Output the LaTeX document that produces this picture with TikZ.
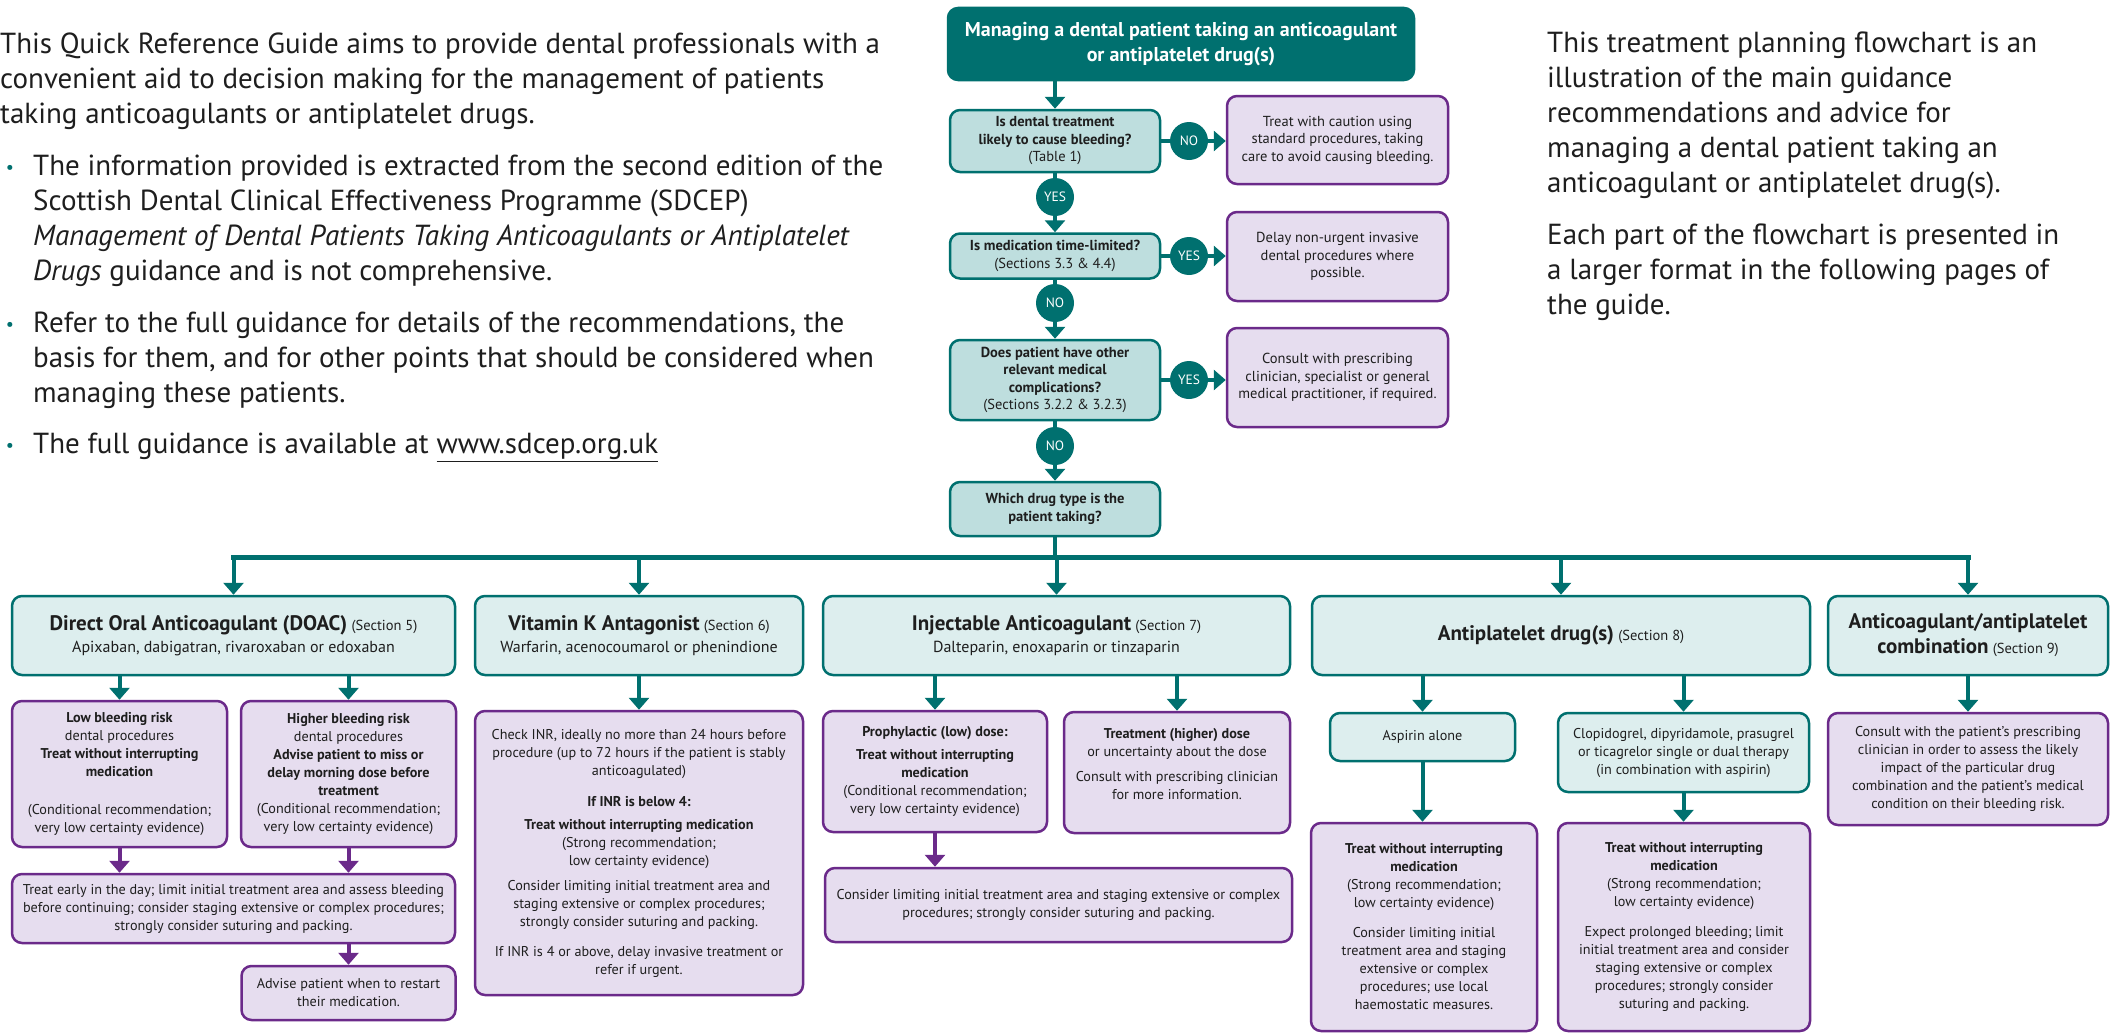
\documentclass[tikz,border=0pt]{standalone}
\usepackage{fontspec}
\setmainfont{PT Sans}
\usetikzlibrary{arrows.meta}

\begin{document}
\begin{tikzpicture}[x=1pt, y=-1pt,
    box/.style={rounded corners=10pt, line width=2.5pt, align=center, inner sep=2pt, text=textColour},
    qbox/.style={box, draw=tealColour, fill=qFillColour, font=\flowFont, minimum width=210pt},
    rbox/.style={box, draw=purpleColour, fill=lilacColour, font=\flowFont, minimum width=221pt},
    drugbox/.style={box, draw=tealColour, fill=drugFillColour, font=\drugFont, minimum height=79pt},
    tealbox/.style={box, draw=tealColour, fill=drugFillColour, font=\bodyFont},
    advbox/.style={box, draw=purpleColour, fill=lilacColour, font=\bodyFont},
    answer/.style={circle, fill=tealColour, text=white, minimum size=38pt, inner sep=0pt, font=\answerFont},
    tline/.style={draw=tealColour, line width=4pt},
    tarrow/.style={tline, -{Triangle[width=20pt,length=12pt]}},
    parrow/.style={draw=purpleColour, line width=4pt, -{Triangle[width=20pt,length=12pt]}},
    para/.style={anchor=north west, inner sep=0pt, align=left, font=\paraFont, text=textColour},
    bulletdot/.style={anchor=base, inner sep=0pt, text=tealColour, font=\fontsize{18}{18}\selectfont}]

    \definecolor{tealColour}{HTML}{00706F}
    \definecolor{qFillColour}{HTML}{BEDEDE}
    \definecolor{drugFillColour}{HTML}{DDEEEE}
    \definecolor{purpleColour}{HTML}{6B2A8A}
    \definecolor{lilacColour}{HTML}{E6DDEF}
    \definecolor{textColour}{HTML}{1E1E1E}

    \def\paraFont{\fontsize{29}{35}\selectfont}
    \def\flowFont{\fontsize{14.5}{17.5}\selectfont}
    \def\titleFont{\fontsize{20}{25}\selectfont\bfseries}
    \def\answerFont{\fontsize{13.5}{15}\selectfont}
    \def\bodyFont{\fontsize{14.2}{18}\selectfont}
    \def\drugFont{\fontsize{16}{22}\selectfont}
    \def\headFont{\fontsize{21}{22}\selectfont\bfseries}
    \def\secFont{\fontsize{14.5}{22}\selectfont}

    \path[use as bounding box, fill=white] (0,0) rectangle (2117,1033);

    % Intro text, left
    \node[para] (intro) at (0,33) {This Quick Reference Guide aims to provide dental professionals with a\\
        convenient aid to decision making for the management of patients\\
        taking anticoagulants or antiplatelet drugs.};
    \node[bulletdot] (dot1) at (10,173) {\textbullet};
    \node[para] (item1) at (33,155) {The information provided is extracted from the second edition of the\\
        Scottish Dental Clinical Effectiveness Programme (SDCEP)\\
        \textit{Management of Dental Patients Taking Anticoagulants or Antiplatelet}\\
        \textit{Drugs} guidance and is not comprehensive.};
    \node[bulletdot] (dot2) at (10,330) {\textbullet};
    \node[para] (item2) at (33,312) {Refer to the full guidance for details of the recommendations, the\\
        basis for them, and for other points that should be considered when\\
        managing these patients.};
    \node[bulletdot] (dot3) at (10,451) {\textbullet};
    \node[para] (item3) at (33,433) {The full guidance is available at \underline{www.sdcep.org.uk}};

    % Intro text, right
    \node[para] (about) at (1547,32) {This treatment planning flowchart is an\\
        illustration of the main guidance\\
        recommendations and advice for\\
        managing a dental patient taking an\\
        anticoagulant or antiplatelet drug(s).\\[17pt]
        Each part of the flowchart is presented in\\
        a larger format in the following pages of\\
        the guide.};

    % Flowchart title
    \node[box, draw=tealColour, fill=tealColour, text=white, font=\titleFont,
        minimum width=466pt, minimum height=72pt] (title) at (1181,44)
        {Managing a dental patient taking an anticoagulant\\or antiplatelet drug(s)};

    % Questions
    \node[qbox, minimum height=62pt] (q1) at (1055,141)
        {\textbf{Is dental treatment}\\\textbf{likely to cause bleeding?}\\(Table 1)};
    \node[qbox, minimum height=45pt] (q2) at (1055,256)
        {\textbf{Is medication time-limited?}\\(Sections 3.3 \& 4.4)};
    \node[qbox, minimum height=80pt] (q3) at (1055,380)
        {\textbf{Does patient have other}\\\textbf{relevant medical}\\\textbf{complications?}\\(Sections 3.2.2 \& 3.2.3)};
    \node[qbox, minimum height=54pt] (q4) at (1055,509)
        {\textbf{Which drug type is the}\\\textbf{patient taking?}};

    % Outcomes on the right
    \node[rbox, minimum height=88pt] (r1) at (1337.5,140)
        {Treat with caution using\\standard procedures, taking\\care to avoid causing bleeding.};
    \node[rbox, minimum height=89pt] (r2) at (1337.5,256.5)
        {Delay non-urgent invasive\\dental procedures where\\possible.};
    \node[rbox, minimum height=99pt] (r3) at (1337.5,377.5)
        {Consult with prescribing\\clinician, specialist or general\\medical practitioner, if required.};

    % Answers
    \node[answer] (no1) at (1189,141) {NO};
    \node[answer] (yes1) at (1055,197) {YES};
    \node[answer] (yes2) at (1189,256) {YES};
    \node[answer] (no2) at (1055,303) {NO};
    \node[answer] (yes3) at (1189,380) {YES};
    \node[answer] (no3) at (1055,446) {NO};

    \draw[tarrow] (title.south -| q1) -- (q1);
    \draw[tline] (q1) -- (no1);
    \draw[tarrow] (no1) -- (no1 -| r1.west);
    \draw[tline] (q1) -- (yes1);
    \draw[tarrow] (yes1) -- (q2);
    \draw[tline] (q2) -- (yes2);
    \draw[tarrow] (yes2) -- (yes2 -| r2.west);
    \draw[tline] (q2) -- (no2);
    \draw[tarrow] (no2) -- (q3);
    \draw[tline] (q3) -- (yes3);
    \draw[tarrow] (yes3) -- (yes3 -| r3.west);
    \draw[tline] (q3) -- (no3);
    \draw[tarrow] (no3) -- (q4);

    % Drug types
    \node[drugbox, minimum width=443pt] (doac) at (233.5,635.5)
        {{\headFont Direct Oral Anticoagulant (DOAC)} {\secFont(Section 5)}\\Apixaban, dabigatran, rivaroxaban or edoxaban};
    \node[drugbox, minimum width=328pt] (vka) at (639,635.5)
        {{\headFont Vitamin K Antagonist} {\secFont(Section 6)}\\Warfarin, acenocoumarol or phenindione};
    \node[drugbox, minimum width=467pt] (inj) at (1056.5,635.5)
        {{\headFont Injectable Anticoagulant} {\secFont(Section 7)}\\Dalteparin, enoxaparin or tinzaparin};
    \node[drugbox, minimum width=498pt] (anti) at (1561,635.5)
        {{\headFont Antiplatelet drug(s)} {\secFont(Section 8)}};
    \node[drugbox, minimum width=280pt] (combo) at (1968,635.5)
        {{\headFont Anticoagulant/antiplatelet}\\[3pt]{\headFont combination} {\secFont(Section 9)}};

    % Bus from the last question
    \coordinate (bus) at (0,557);
    \draw[tline] (q4) -- (q4 |- bus);
    \draw[tline, line width=5pt, line cap=rect] (doac |- bus) -- (combo |- bus);
    \foreach \d in {doac,vka,inj,anti,combo}
        \draw[tarrow] (\d |- bus) -- (\d);

    % DOAC
    \node[advbox, minimum width=215pt, minimum height=146pt] (low) at (119.5,774)
        {\textbf{Low bleeding risk}\\dental procedures\\\textbf{Treat without interrupting}\\\textbf{medication}\\[20pt]
        (Conditional recommendation;\\very low certainty evidence)};
    \node[advbox, minimum width=215pt, minimum height=146pt] (high) at (348.5,774)
        {\textbf{Higher bleeding risk}\\dental procedures\\\textbf{Advise patient to miss or}\\\textbf{delay morning dose before}\\\textbf{treatment}\\
        (Conditional recommendation;\\very low certainty evidence)};
    \node[advbox, minimum width=443pt, minimum height=69pt] (early) at (233.5,908.5)
        {Treat early in the day; limit initial treatment area and assess bleeding\\
        before continuing; consider staging extensive or complex procedures;\\
        strongly consider suturing and packing.};
    \node[advbox, minimum width=214pt, minimum height=54pt] (restart) at (348.5,993)
        {Advise patient when to restart\\their medication.};

    \draw[tarrow] (low |- doac.south) -- (low);
    \draw[tarrow] (high |- doac.south) -- (high);
    \draw[parrow] (low) -- (low |- early.north);
    \draw[parrow] (high) -- (high |- early.north);
    \draw[parrow] (restart |- early.south) -- (restart);

    % Vitamin K antagonist
    \node[advbox, minimum width=328pt, minimum height=284pt] (vkaplan) at (639,853)
        {Check INR, ideally no more than 24 hours before\\
        procedure (up to 72 hours if the patient is stably\\
        anticoagulated)\\[13pt]
        \textbf{If INR is below 4:}\\[5pt]
        \textbf{Treat without interrupting medication}\\
        (Strong recommendation;\\low certainty evidence)\\[7pt]
        Consider limiting initial treatment area and\\
        staging extensive or complex procedures;\\
        strongly consider suturing and packing.\\[12pt]
        If INR is 4 or above, delay invasive treatment or\\
        refer if urgent.};
    \draw[tarrow] (vka) -- (vkaplan);

    % Injectable anticoagulant
    \node[advbox, minimum width=224pt, minimum height=121pt] (proph) at (935,771.5)
        {\textbf{Prophylactic (low) dose:}\\[5pt]\textbf{Treat without interrupting}\\\textbf{medication}\\
        (Conditional recommendation;\\very low certainty evidence)};
    \node[advbox, minimum width=226pt, minimum height=121pt] (treat) at (1177,772.5)
        {\textbf{Treatment (higher) dose}\\or uncertainty about the dose\\[7pt]
        Consult with prescribing clinician\\for more information.\\~};
    \node[advbox, minimum width=467pt, minimum height=74pt] (consider) at (1058.5,905)
        {Consider limiting initial treatment area and staging extensive or complex\\
        procedures; strongly consider suturing and packing.};

    \draw[tarrow] (proph |- inj.south) -- (proph);
    \draw[tarrow] (treat |- inj.south) -- (treat);
    \draw[parrow] (proph) -- (proph |- consider.north);

    % Antiplatelet drugs
    \node[tealbox, minimum width=185pt, minimum height=48pt] (aspirin) at (1422.5,737) {Aspirin alone};
    \node[tealbox, minimum width=251pt, minimum height=79pt] (clop) at (1683.5,752.5)
        {Clopidogrel, dipyridamole, prasugrel\\or ticagrelor single or dual therapy\\(in combination with aspirin)};
    \node[advbox, minimum width=226pt, minimum height=208pt] (twi1) at (1424,927)
        {\textbf{Treat without interrupting}\\\textbf{medication}\\(Strong recommendation;\\low certainty evidence)\\[12pt]
        Consider limiting initial\\treatment area and staging\\extensive or complex\\procedures; use local\\haemostatic measures.};
    \node[advbox, minimum width=252pt, minimum height=208pt] (twi2) at (1684,927)
        {\textbf{Treat without interrupting}\\\textbf{medication}\\(Strong recommendation;\\low certainty evidence)\\[12pt]
        Expect prolonged bleeding; limit\\initial treatment area and consider\\staging extensive or complex\\procedures; strongly consider\\suturing and packing.};

    \draw[tarrow] (aspirin |- anti.south) -- (aspirin);
    \draw[tarrow] (clop |- anti.south) -- (clop);
    \draw[tarrow] (aspirin) -- (aspirin |- twi1.north);
    \draw[tarrow] (clop) -- (clop |- twi2.north);

    % Combination
    \node[advbox, minimum width=280pt, minimum height=112pt] (comboplan) at (1968,769)
        {Consult with the patient’s prescribing\\clinician in order to assess the likely\\impact of the particular drug\\
        combination and the patient’s medical\\condition on their bleeding risk.};
    \draw[tarrow] (combo) -- (comboplan);

\end{tikzpicture}
\end{document}
